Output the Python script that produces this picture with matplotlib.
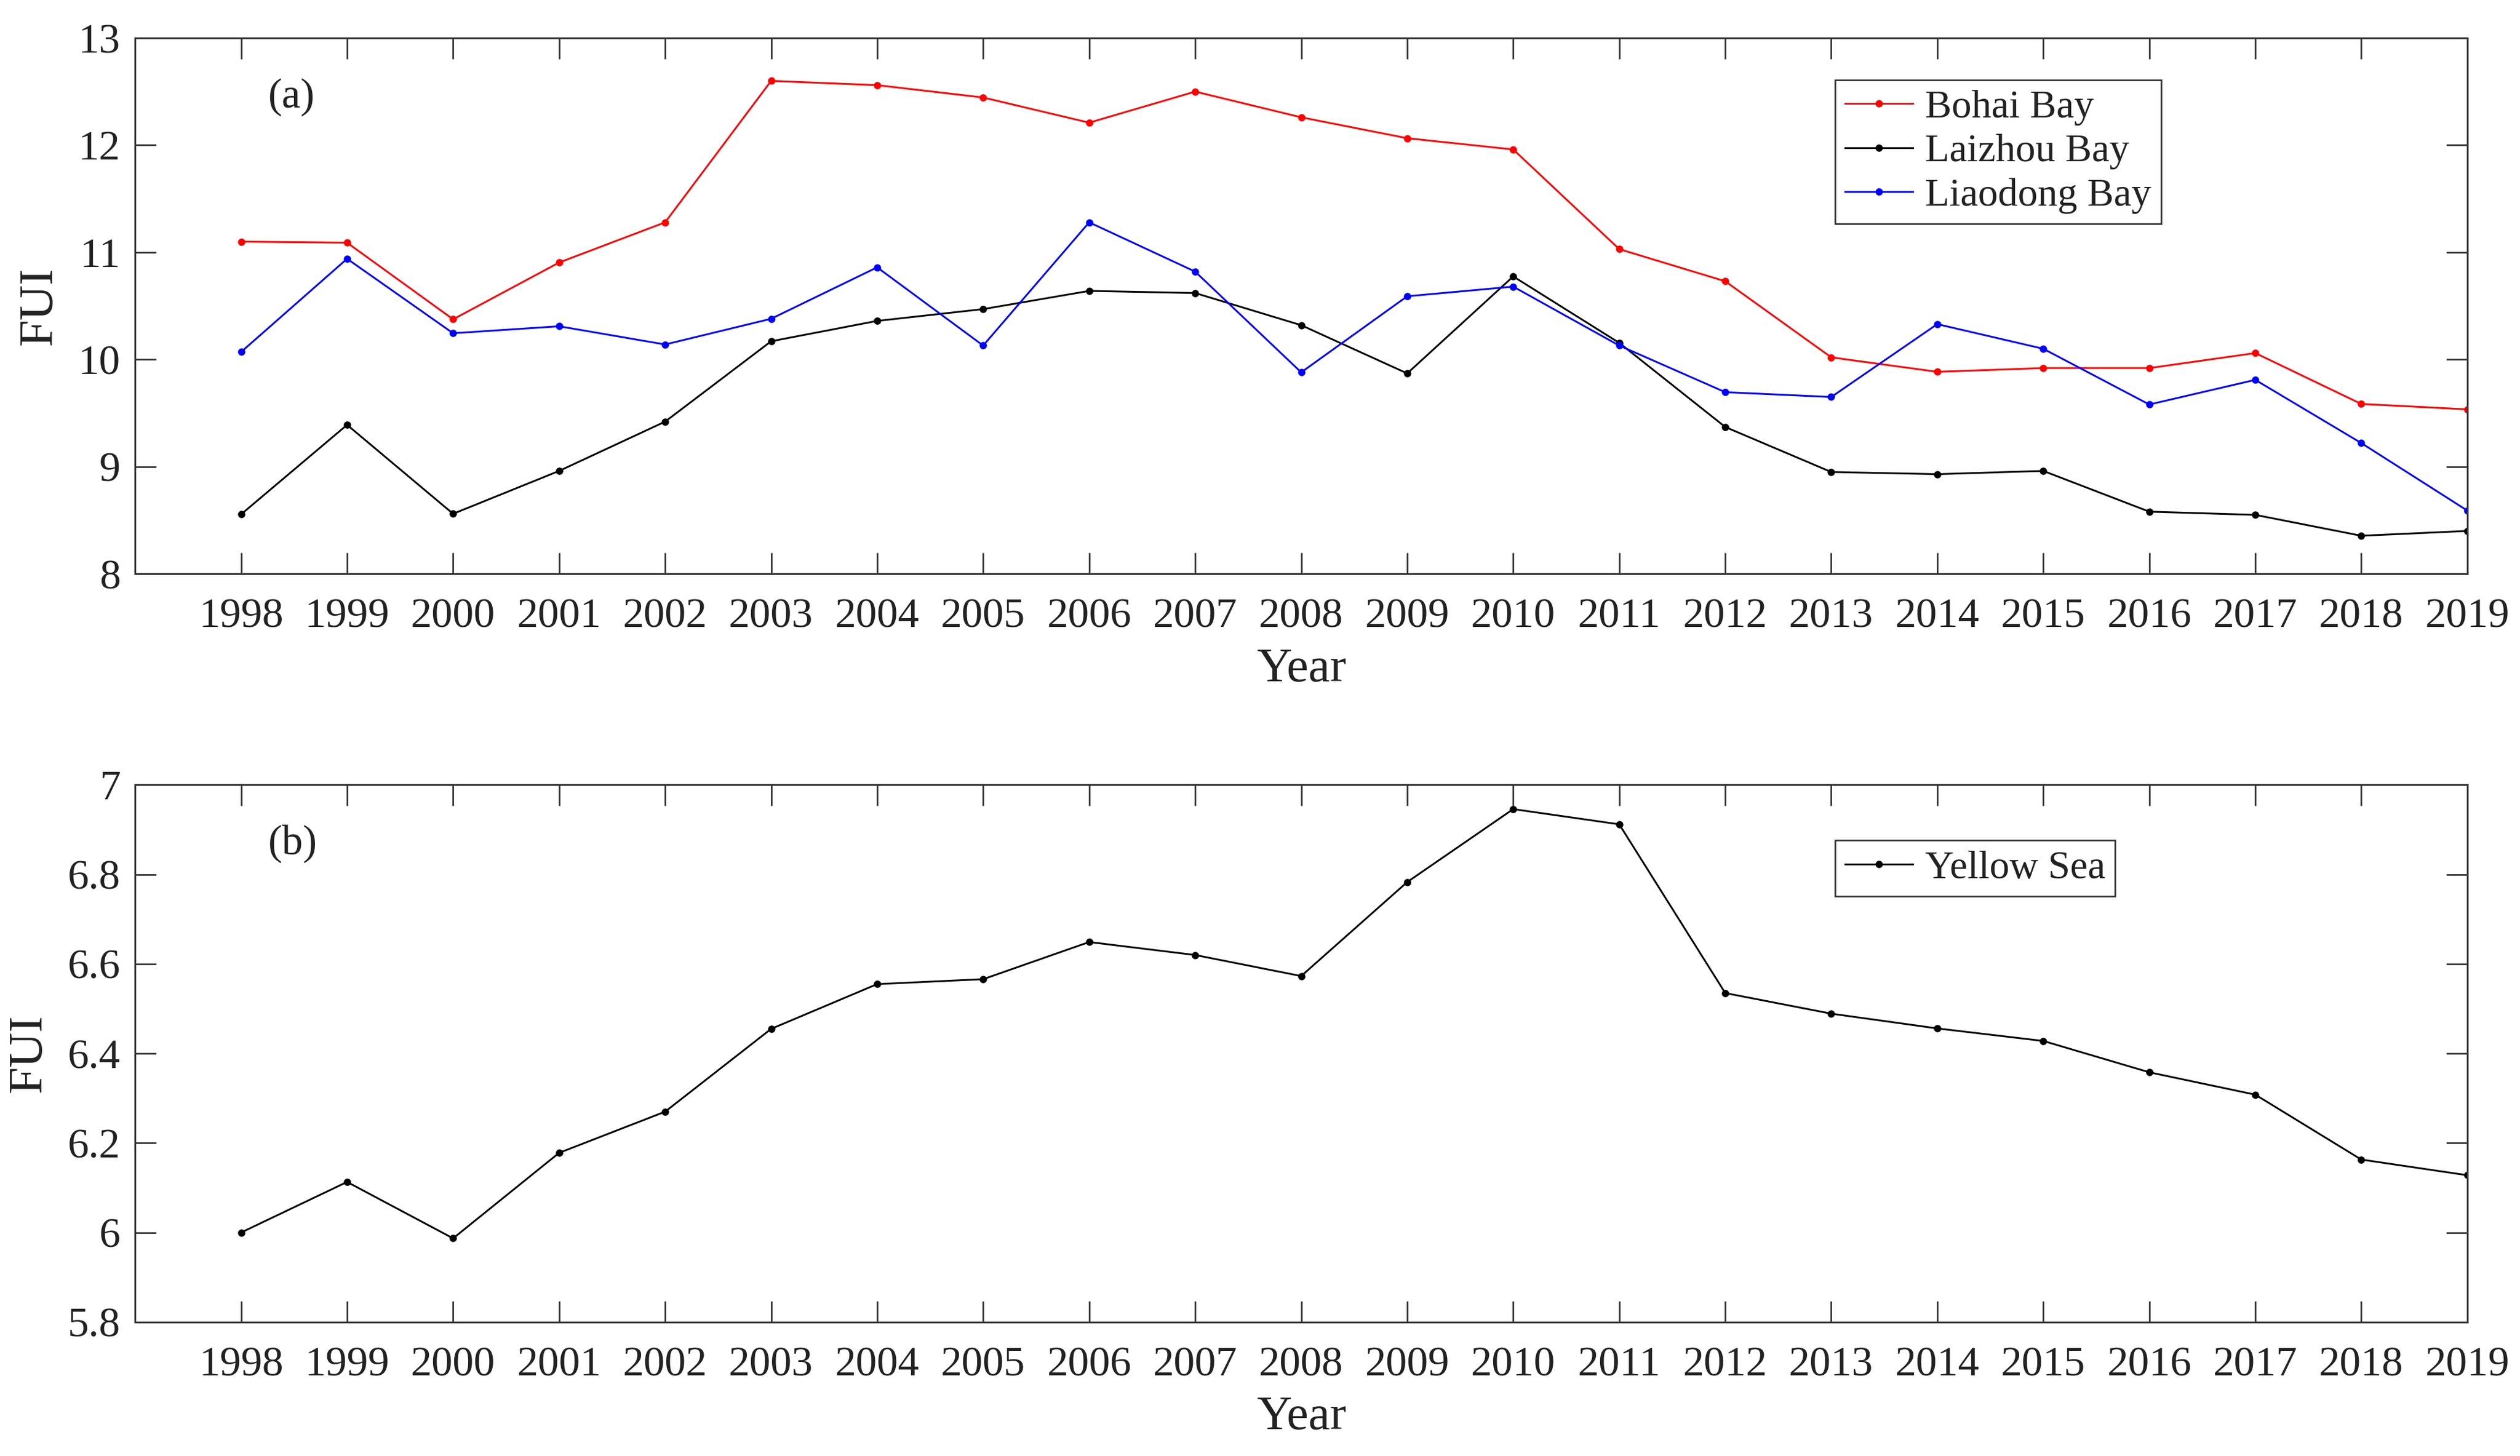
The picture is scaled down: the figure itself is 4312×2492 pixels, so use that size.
import numpy as np
import matplotlib
matplotlib.use("Agg")
import matplotlib.pyplot as plt

plt.rcParams['font.family'] = ['Liberation Serif', 'DejaVu Serif']

years = list(range(1998, 2020))

bohai = [11.10, 11.09, 10.375, 10.905, 11.28, 12.60, 12.56, 12.445, 12.21, 12.50, 12.26,
         12.065, 11.96, 11.03, 10.73, 10.02, 9.885, 9.92, 9.92, 10.06, 9.585, 9.535]
laizhou = [8.555, 9.39, 8.56, 8.96, 9.42, 10.17, 10.36, 10.47, 10.64, 10.62, 10.32,
           9.87, 10.775, 10.155, 9.37, 8.95, 8.93, 8.96, 8.58, 8.55, 8.355, 8.40]
liaodong = [10.07, 10.94, 10.245, 10.31, 10.14, 10.38, 10.86, 10.13, 11.28, 10.82, 9.88,
            10.59, 10.68, 10.13, 9.695, 9.65, 10.33, 10.10, 9.58, 9.81, 9.22, 8.59]
yellow = [6.00, 6.113, 5.987, 6.178, 6.27, 6.455, 6.555, 6.566, 6.649, 6.62, 6.573,
          6.783, 6.946, 6.912, 6.535, 6.489, 6.456, 6.428, 6.358, 6.308, 6.163, 6.128]

yt_a = [8, 9, 10, 11, 12, 13]
yt_b = [5.8, 6, 6.2, 6.4, 6.6, 6.8, 7]
yt_b_labels = ['5.8', '6', '6.2', '6.4', '6.6', '6.8', '7']

txt = '#222222'
edge = '#333333'

fig = plt.figure(figsize=(21.56, 12.46), dpi=200)
ax1 = fig.add_axes([0.0536, 0.6059, 0.9255, 0.3680])
ax2 = fig.add_axes([0.0536, 0.0920, 0.9255, 0.3689])

lw = 1.1
ms = 3.5
ax1.plot(years, bohai, color='red', marker='o', ms=ms, lw=lw, label='Bohai Bay')
ax1.plot(years, laizhou, color='black', marker='o', ms=ms, lw=lw, label='Laizhou Bay')
ax1.plot(years, liaodong, color='blue', marker='o', ms=ms, lw=lw, label='Liaodong Bay')
ax2.plot(years, yellow, color='black', marker='o', ms=ms, lw=lw, label='Yellow Sea')

ax1.set_ylim(8, 13)
ax1.set_yticks(yt_a)
ax1.set_yticklabels([str(v) for v in yt_a])
ax2.set_ylim(5.8, 7)
ax2.set_yticks(yt_b)
ax2.set_yticklabels(yt_b_labels)

for ax, tag in [(ax1, '(a)'), (ax2, '(b)')]:
    ax.set_xlim(1997, 2019)
    ax.set_xticks(years)
    ax.set_xticklabels([str(y) for y in years])
    ax.tick_params(direction='in', length=13, width=1.0, colors=edge,
                   labelcolor=txt, labelsize=26, top=True, right=True)
    ax.tick_params(axis='x', pad=15)
    ax.tick_params(axis='y', pad=9)
    for s in ax.spines.values():
        s.set_color(edge)
        s.set_linewidth(1.1)
    ax.set_xlabel('Year', fontsize=30, color=txt, labelpad=7)
    ax.set_ylabel('FUI', fontsize=30, color=txt, labelpad=10)
    ax.text(0.057, 0.89, tag, transform=ax.transAxes, fontsize=26,
            color=txt, va='center', ha='left')

leg1 = ax1.legend(loc='upper left', bbox_to_anchor=(0.729, 0.922), fontsize=24.5,
                  frameon=True, fancybox=False, edgecolor=edge, framealpha=1,
                  handlelength=1.7, borderpad=0.25, labelspacing=0.2,
                  handletextpad=0.3, borderaxespad=0)
leg2 = ax2.legend(loc='upper left', bbox_to_anchor=(0.729, 0.897), fontsize=24.5,
                  frameon=True, fancybox=False, edgecolor=edge, framealpha=1,
                  handlelength=1.7, borderpad=0.25, labelspacing=0.2,
                  handletextpad=0.3, borderaxespad=0)
for leg in (leg1, leg2):
    leg.get_frame().set_linewidth(1.0)
    for t in leg.get_texts():
        t.set_color(txt)

fig.savefig('out.png', dpi=200)
